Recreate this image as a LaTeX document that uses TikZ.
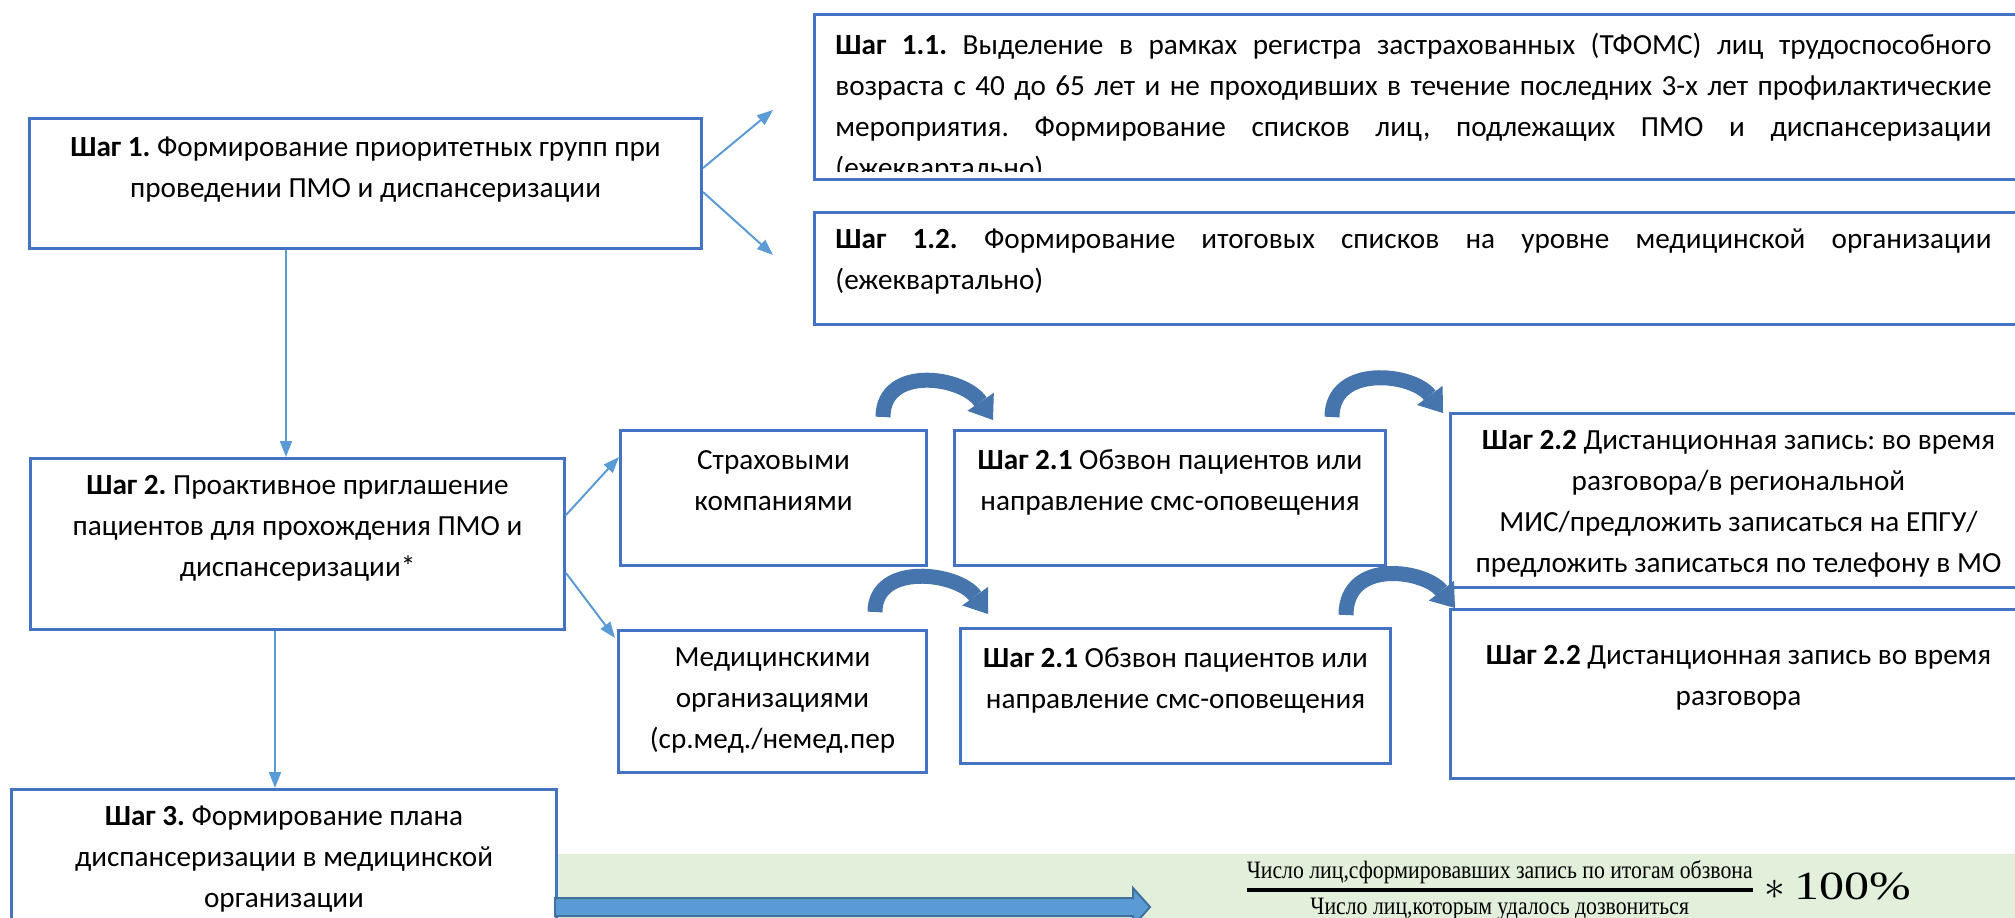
\documentclass[tikz,border=0pt]{standalone}
\usepackage{amsmath}
\usepackage{graphicx}
\usepackage{fontspec}
\setmainfont{Carlito}
\newfontfamily\formfont{Liberation Serif}
\usepackage{tikz}
\usetikzlibrary{arrows.meta,calc,positioning}

\definecolor{boxblue}{HTML}{4472C4}
\definecolor{linkblue}{HTML}{5B9BD5}
\definecolor{hopblue}{HTML}{4674AC}
\definecolor{edgeblue}{HTML}{41719C}
\definecolor{bandgreen}{HTML}{E2EFDA}

\frenchspacing
\hyphenpenalty=10000
\exhyphenpenalty=10000
\hbadness=10000

\newcommand{\ratiotext}[1]{\scalebox{0.87}[1]{\formfont\fontsize{12.5}{14}\selectfont #1}}

\tikzset{
    stepbox/.style={draw=boxblue, line width=1.5pt, anchor=north west, inner sep=0pt},
    steptext/.style={font=\fontsize{14.6}{20.5}\selectfont, align=center, inner sep=0pt},
    link/.style={draw=linkblue, line width=1pt, -{Triangle[length=8pt,width=6pt]}},
    hop/.style={draw=hopblue, line width=7.5pt, -{Triangle[length=11pt,width=16pt,line width=0pt]}},
}

\begin{document}
\begin{tikzpicture}[x=0.5pt, y=-0.5pt]

    %% Background
    \clip (0,0) rectangle (2015,917);

    % Green band
    \fill[bandgreen] (555,854) rectangle (2015,930);

    % Boxes
    \node[stepbox, minimum width=336pt, minimum height=65pt] (box1) at (28,117) {};
    \node[stepbox, minimum width=610pt, minimum height=82.5pt] (box11) at (813,13) {};
    \node[stepbox, minimum width=610pt, minimum height=56pt] (box12) at (813,211) {};
    \node[stepbox, minimum width=267pt, minimum height=85.5pt] (box2) at (29,457) {};
    \node[stepbox, minimum width=153pt, minimum height=67.5pt] (boxins) at (619,429) {};
    \node[stepbox, minimum width=215.5pt, minimum height=67.5pt] (boxcall1) at (953,429) {};
    \node[stepbox, minimum width=288pt, minimum height=87pt] (boxrec1) at (1449,412) {};
    \node[stepbox, minimum width=154pt, minimum height=71pt] (boxmed) at (617,629) {};
    \node[stepbox, minimum width=215pt, minimum height=67.5pt] (boxcall2) at (959,627) {};
    \node[stepbox, minimum width=288pt, minimum height=84.5pt] (boxrec2) at (1449,608) {};
    \node[stepbox, minimum width=272.5pt, minimum height=66pt] (box3) at (10,788) {};

    % Texts
    \node[steptext, below=10pt of box1.north] (txt1)
        {\textbf{Шаг 1.} Формирование приоритетных групп при\\ проведении ПМО и диспансеризации};
    \begin{scope}
        \clip (813,13) rectangle (2015,171);
        \node[steptext, align=justify, text width=578pt, below right=10pt and 11pt of box11.north west] (txt11)
            {\textbf{Шаг 1.1.} Выделение в рамках регистра застрахованных (ТФОМС) лиц трудоспособного\linebreak
            возраста с 40 до 65 лет и не проходивших в течение последних 3-х лет профилактические\linebreak
            мероприятия. Формирование списков лиц, подлежащих ПМО и диспансеризации\linebreak
            (ежеквартально)};
    \end{scope}
    \node[steptext, align=justify, text width=578pt, below right=8.5pt and 11pt of box12.north west] (txt12)
        {\textbf{Шаг 1.2.} Формирование итоговых списков на уровне медицинской организации\linebreak
        (ежеквартально)};
    \node[steptext, below=9pt of box2.north] (txt2)
        {\textbf{Шаг 2.} Проактивное приглашение\\ пациентов для прохождения ПМО и\\ диспансеризации*};
    \node[steptext, below=10.5pt of boxins.north] (txtins)
        {Страховыми\\ компаниями};
    \node[steptext, below=10pt of boxcall1.north] (txtcall1)
        {\textbf{Шаг 2.1} Обзвон пациентов или\\ направление смс-оповещения};
    \node[steptext, below=9pt of boxrec1.north] (txtrec1)
        {\textbf{Шаг 2.2} Дистанционная запись: во время\\ разговора/в региональной\\
        МИС/предложить записаться на ЕПГУ/\\ предложить записаться по телефону в МО};
    \node[steptext, below=9pt of boxmed.north] (txtmed)
        {Медицинскими\\ организациями\\ (ср.мед./немед.пер};
    \node[steptext, below=10pt of boxcall2.north] (txtcall2)
        {\textbf{Шаг 2.1} Обзвон пациентов или\\ направление смс-оповещения};
    \node[steptext, below=18.5pt of boxrec2.north] (txtrec2)
        {\textbf{Шаг 2.2} Дистанционная запись во время\\ разговора};
    \node[steptext, below=8.5pt of box3.north] (txt3)
        {\textbf{Шаг 3.} Формирование плана\\ диспансеризации в медицинской\\ организации};

    % Arrows
    \coordinate (down1) at (286,0);
    \coordinate (down2) at (275,0);
    \coordinate (to11) at (773,110);
    \coordinate (to12) at (773,255);
    \draw[link] (box1.south -| down1) -- (box2.north -| down1);
    \draw[link] (box2.south -| down2) -- (box3.north -| down2);
    \draw[link] ($(box1.north east)+(0,51)$) -- (to11);
    \draw[link] ($(box1.north east)+(0,75)$) -- (to12);
    \draw[link] ($(box2.north east)+(0,58)$) -- ($(boxins.north west)+(0,28)$);
    \draw[link] ($(box2.north east)+(0,116)$) -- ($(boxmed.north west)+(-2,9)$);

    % Curved arrows
    \draw[hop] ($(boxins.north east)+(-45,-12)$) .. controls +(0,-52) and +(-30,-44) .. +(110,3);
    \draw[hop] ($(boxcall1.north east)+(-55,-12)$) .. controls +(0,-53) and +(-30,-40) .. +(111,-4);
    \draw[hop] ($(boxmed.north east)+(-53,-17)$) .. controls +(0,-50) and +(-30,-42) .. +(113,2);
    \draw[hop] ($(boxcall2.north east)+(-46,-12)$) .. controls +(0,-57) and +(-30,-38) .. +(109,-7);

    % Block arrow
    \draw[draw=edgeblue, fill=linkblue, line width=1pt]
        (555,898) -- (1133,898) -- (1133,888) -- (1150,907) -- (1133,926) -- (1133,916) -- (555,916) -- cycle;

    % Ratio
    \node[anchor=west, inner sep=0pt, font=\fontsize{20}{24}\selectfont] (ratio) at (1244,890)
        {$\genfrac{}{}{2pt}{1}{\mbox{\ratiotext{Число лиц,сформировавших запись по итогам обзвона}}}{\mbox{\ratiotext{Число лиц,которым удалось дозвониться}}}\ast\mbox{\scalebox{1.25}[1]{\formfont 100\%}}$};

\end{tikzpicture}
\end{document}
